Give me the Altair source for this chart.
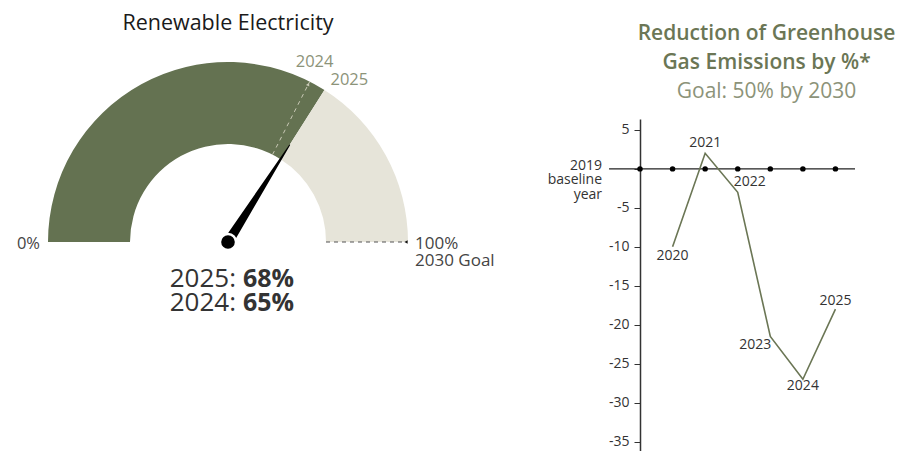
import math
import altair as alt
import pandas as pd

# ---------------- data ----------------
gauge_years = [2024, 2025]
gauge_values = [65, 68]          # % renewable electricity
gauge_goal_label = ["100%", "2030 Goal"]

ghg_years = [2020, 2021, 2022, 2023, 2024, 2025]
ghg_values = [-10, 2, -3, -21.5, -27, -18]
baseline_years = [2019, 2020, 2021, 2022, 2023, 2024, 2025]
y_ticks = [5, 0, -5, -10, -15, -20, -25, -30, -35]

# ---------------- style ----------------
FONT = "Open Sans"
GREEN = "#647251"
LIGHT = "#e6e4d9"
OLIVE = "#6b7655"
OLIVE_LIGHT = "#8c9379"
DARK = "#333333"
R_OUT, R_IN, R_NEEDLE = 180, 98, 115

cur_year, cur_val = gauge_years[1], gauge_values[1]
prev_year, prev_val = gauge_years[0], gauge_values[0]

xs = alt.Scale(domain=[-R_OUT, R_OUT], nice=False, zero=False)
ys = alt.Scale(domain=[-37, 123], nice=False, zero=False)

def px(r):
    return f"{r}*cos(PI*(1-datum.v/100))"

def py(r):
    return f"{r}*sin(PI*(1-datum.v/100))"

def X(f):
    return alt.X(f, type="quantitative", scale=xs, axis=None)

def Y(f):
    return alt.Y(f, type="quantitative", scale=ys, axis=None)

# arcs
arc_df = pd.DataFrame({"start": [0, cur_val], "end": [cur_val, 100], "seg": ["done", "rest"]})
arcs = alt.Chart(arc_df).transform_calculate(cx="0", cy="0").mark_arc(radius=R_OUT, radius2=R_IN).encode(
    theta=alt.Theta("start:Q", scale=alt.Scale(domain=[0, 100], range=[-math.pi / 2, math.pi / 2])),
    theta2="end:Q",
    color=alt.Color("seg:N", scale=alt.Scale(domain=["done", "rest"], range=[GREEN, LIGHT]), legend=None),
    x=X("cx"),
    y=Y("cy"),
)

# 2024 dashed marker line
prev_df = pd.DataFrame({"v": [prev_val]})
prev_line = alt.Chart(prev_df).transform_calculate(
    x1=px(R_IN), y1=py(R_IN), x2=px(R_OUT), y2=py(R_OUT)
).mark_rule(color="#c9c9b6", strokeDash=[4, 4], strokeWidth=1).encode(
    x=X("x1"), y=Y("y1"), x2="x2:Q", y2="y2:Q"
)
prev_tri = alt.Chart(prev_df).transform_calculate(
    tx=px(R_OUT - 3), ty=py(R_OUT - 3)
).mark_point(shape="triangle-up", filled=True, size=14, color="#c9c9b6", opacity=1,
             angle=90 - 180 * (1 - prev_val / 100)).encode(x=X("tx"), y=Y("ty"))

# goal dashed line
goal_df = pd.DataFrame({"v": [100]})
goal_line = alt.Chart(goal_df).transform_calculate(
    x1=px(R_IN), y1=py(R_IN), x2=px(R_OUT - 4), y2=py(R_OUT)
).mark_rule(color="#555555", strokeDash=[4, 4], strokeWidth=1).encode(
    x=X("x1"), y=Y("y1"), x2="x2:Q", y2="y2:Q"
)
goal_tri = alt.Chart(goal_df).transform_calculate(
    tx=px(R_OUT - 2), ty=py(R_OUT)
).mark_point(shape="triangle-left", filled=True, size=14, color="#111111", opacity=1).encode(
    x=X("tx"), y=Y("ty"))

# needle (trail tapering to the tip)
needle_df = pd.DataFrame({"v": [cur_val, cur_val], "r": [0, R_NEEDLE], "w": [10, 1]})
needle = alt.Chart(needle_df).transform_calculate(
    nx="datum.r*cos(PI*(1-datum.v/100))", ny="datum.r*sin(PI*(1-datum.v/100))"
).mark_trail(color="black").encode(
    x=X("nx"), y=Y("ny"),
    size=alt.Size("w:Q", scale=None),
    order="r:Q",
)
hub = alt.Chart(pd.DataFrame({"v": [0]})).transform_calculate(cx="0", cy="0").mark_circle(
    size=260, color="black", opacity=1, stroke="white", strokeWidth=2.5
).encode(x=X("cx"), y=Y("cy"))

# labels around the gauge
zero_df = pd.DataFrame({"v": [0], "t": ["0%"]})
zero_lbl = alt.Chart(zero_df).transform_calculate(lx=px(R_OUT), ly=py(R_OUT)).mark_text(
    align="right", baseline="middle", dx=-8, dy=2, font=FONT, fontSize=16.5, color="#444444"
).encode(x=X("lx"), y=Y("ly"), text="t:N")

goal_lbl = alt.Chart(goal_df).transform_calculate(lx=px(R_OUT), ly=py(R_OUT)).mark_text(
    align="left", baseline="alphabetic", dx=7, dy=7, lineHeight=17, font=FONT, fontSize=17,
    color="#444444", text=gauge_goal_label
).encode(x=X("lx"), y=Y("ly"))

yr_df = pd.DataFrame({"v": gauge_values, "t": [str(y) for y in gauge_years]})
lbl_prev = alt.Chart(yr_df).transform_filter(f"datum.v == {prev_val}").transform_calculate(
    lx=px(R_OUT), ly=py(R_OUT)
).mark_text(align="left", baseline="middle", dx=-14, dy=-20, font=FONT, fontSize=16.5, color=OLIVE_LIGHT).encode(
    x=X("lx"), y=Y("ly"), text="t:N")
lbl_cur = alt.Chart(yr_df).transform_filter(f"datum.v == {cur_val}").transform_calculate(
    lx=px(R_OUT), ly=py(R_OUT)
).mark_text(align="left", baseline="middle", dx=6, dy=-10, font=FONT, fontSize=16.5, color=OLIVE_LIGHT).encode(
    x=X("lx"), y=Y("ly"), text="t:N")

# big readout
read_df = pd.DataFrame({"year": [f"{cur_year}:", f"{prev_year}:"],
                        "val": [f"{cur_val}%", f"{prev_val}%"]})
read_layers = []
for i, dy in enumerate([37, 61]):
    sub = read_df.iloc[[i]]
    read_layers.append(alt.Chart(sub).transform_calculate(cx="0", cy="0").mark_text(
        align="right", baseline="middle", dx=8, dy=dy, font=FONT, fontSize=26, color=DARK, fontWeight=400
    ).encode(x=X("cx"), y=Y("cy"), text="year:N"))
    read_layers.append(alt.Chart(sub).transform_calculate(cx="0", cy="0").mark_text(
        align="left", baseline="middle", dx=15, dy=dy, font=FONT, fontSize=25, color=DARK, fontWeight=700
    ).encode(x=X("cx"), y=Y("cy"), text="val:N"))

gauge = alt.layer(
    arcs, prev_line, prev_tri, goal_line, goal_tri, needle, hub,
    zero_lbl, goal_lbl, lbl_prev, lbl_cur, *read_layers
).properties(
    width=2 * R_OUT, height=160,
    title=alt.TitleParams("Renewable Electricity", font=FONT, fontSize=21.5, fontWeight=500,
                          color="#1a1a1a", anchor="middle", offset=19),
)

# ---------------- GHG line chart ----------------
xs2 = alt.Scale(domain=[2019, 2025.6], nice=False, zero=False)
ys2 = alt.Scale(domain=[-36.2, 6.4], nice=False, zero=False)

ghg_df = pd.DataFrame({"year": ghg_years, "value": ghg_values, "label": [str(y) for y in ghg_years]})
base_df = pd.DataFrame({"year": baseline_years})

yaxis = alt.Axis(values=y_ticks, labelExpr="datum.value == 0 ? '' : toString(datum.value)",
                 tickSize=6, tickColor=DARK, domainColor=DARK, domainWidth=1.5, tickWidth=1,
                 labelFont=FONT, labelFontSize=14, labelColor=DARK, labelPadding=5, grid=False, title=None)

def X2(f):
    return alt.X(f, type="quantitative", scale=xs2, axis=None)

def Y2(f):
    return alt.Y(f, type="quantitative", scale=ys2, axis=yaxis)

zero_rule = alt.Chart(pd.DataFrame({"y0": [0]})).transform_calculate(
    xa="2018.05", xb="2025.6"
).mark_rule(color="#222222", strokeWidth=1.3).encode(
    x=X2("xa"), x2="xb:Q", y=Y2("y0"),
)
dots = alt.Chart(base_df).transform_calculate(y0="0").mark_circle(size=30, color="black", opacity=1).encode(
    x=X2("year"), y=Y2("y0"),
)
line = alt.Chart(ghg_df).mark_line(color=OLIVE, strokeWidth=1.6).encode(
    x=X2("year"), y=Y2("value"),
)
base_lbl = alt.Chart(pd.DataFrame({"y0": [0]})).transform_calculate(xa="2018.05").mark_text(
    align="right", baseline="alphabetic", dx=-7, dy=1, lineHeight=14.5, font=FONT, fontSize=14,
    color=DARK, text=[str(baseline_years[0]), "baseline", "year"]
).encode(x=X2("xa"), y=Y2("y0"))

label_specs = [
    ([2020], "center", 0, 9),
    ([2021], "center", 0, -10),
    ([2022], "left", -4, -10),
    ([2023], "right", 1, 9),
    ([2024], "center", 0, 7),
    ([2025], "center", 0, -8),
]
lbl_layers = []
for yrs, al, dx, dy in label_specs:
    lbl_layers.append(
        alt.Chart(ghg_df).transform_filter(alt.FieldOneOfPredicate(field="year", oneOf=yrs)).mark_text(
            align=al, baseline="middle", dx=dx, dy=dy, font=FONT, fontSize=14, color=DARK
        ).encode(x=X2("year"), y=Y2("value"), text="label:N")
    )

ghg = alt.layer(zero_rule, line, dots, base_lbl, *lbl_layers).properties(
    width=215, height=332,
    title=alt.TitleParams(
        ["Reduction of Greenhouse", "Gas Emissions by %*"],
        subtitle="Goal: 50% by 2030",
        font=FONT, fontSize=21, fontWeight=600, color=OLIVE, lineHeight=29,
        subtitleFont=FONT, subtitleFontSize=21, subtitleColor=OLIVE_LIGHT, subtitlePadding=8,
        anchor="middle", dx=19, offset=17,
    ),
)

chart = alt.hconcat(gauge, ghg, spacing=52).properties(
    padding={"left": 8, "top": 5, "right": 5, "bottom": 0}
).configure_view(stroke=None)

chart.save("out.html", embed_options={"renderer": "svg", "actions": False})
